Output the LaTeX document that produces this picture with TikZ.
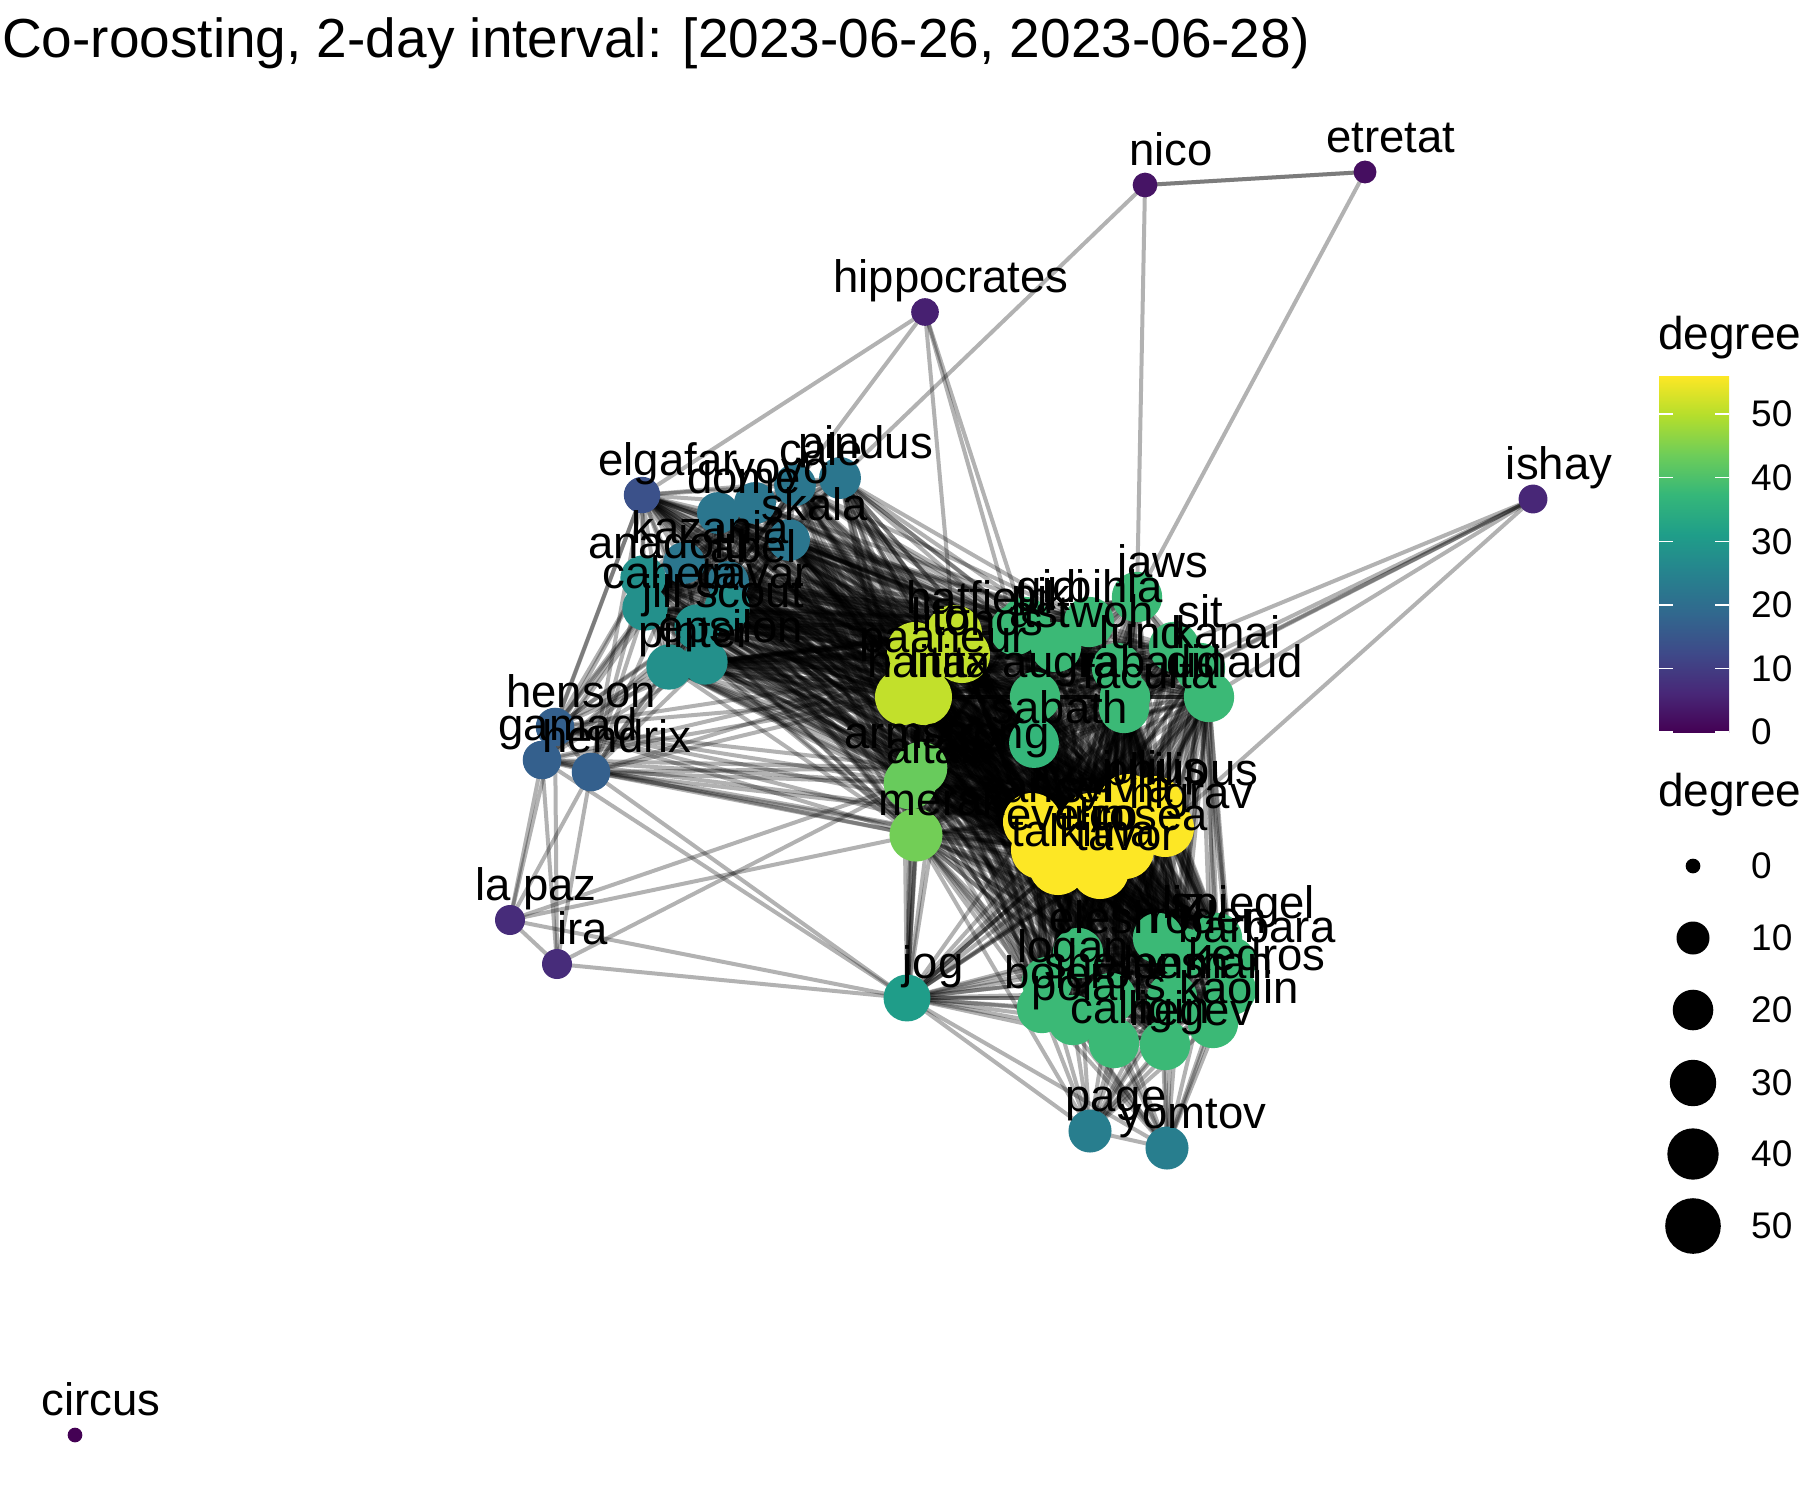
\documentclass[tikz,border=0pt]{standalone}
\usepackage{fontspec}
\setmainfont{Liberation Sans}
\definecolor{vir0}{HTML}{440154}
\definecolor{vir1}{HTML}{482878}
\definecolor{vir2}{HTML}{3E4A89}
\definecolor{vir3}{HTML}{31688E}
\definecolor{vir4}{HTML}{26828E}
\definecolor{vir5}{HTML}{1F9E89}
\definecolor{vir6}{HTML}{35B779}
\definecolor{vir7}{HTML}{6DCD59}
\definecolor{vir8}{HTML}{B4DE2C}
\definecolor{vir9}{HTML}{FDE725}
\pgfdeclareverticalshading{viridisbar}{100bp}{color(0bp)=(vir0); color(25bp)=(vir0); color(30.556bp)=(vir1); color(36.111bp)=(vir2); color(41.667bp)=(vir3); color(47.222bp)=(vir4); color(52.778bp)=(vir5); color(58.333bp)=(vir6); color(63.889bp)=(vir7); color(69.444bp)=(vir8); color(75bp)=(vir9); color(100bp)=(vir9)}
\newcommand\setdc[1]{%
 \pgfmathsetmacro\vt{min(#1*9/56,8.999)}%
 \pgfmathtruncatemacro\vi{\vt}%
 \pgfmathtruncatemacro\vj{\vi+1}%
 \pgfmathsetmacro\vf{(\vt-\vi)*100}%
 \colorlet{dc}{vir\vj!\vf!vir\vi}}
\newcommand\cliq[1]{\edef\cliqA{#1}\foreach \ea [count=\ci] in \cliqA {\foreach \eb [count=\cj] in \cliqA {\ifnum\ci<\cj \draw[edge] (\ea) -- (\eb);\fi}}}
\newcommand\bip[2]{\edef\bipA{#1}\edef\bipB{#2}\foreach \ea in \bipA {\foreach \eb in \bipB {\draw[edge] (\ea) -- (\eb);}}}
\def\nodelist{circus/75/1435/0/circus, nico/1145/185/3/nico, etretat/1365/172/2/etretat, hippo/925/312/5/hippocrates, ishay/1533/499/6/ishay,
elgafar/642/495/14/elgafar, dome/718/513/22/dome, yoyo/755/503/22/yoyo, cale/795/485/22/cale, pindus/840/478/22/pindus, skala/789/540/22/skala, kazania/684/563/22/kazania, abel/728/582/22/abel, anadolu/643/578/28/anadolu, caheta/645/608/28/caheta, gavar/727/608/28/gavar, jill/697/627/28/jill scout, epsilon/705/662/28/epsilon, pinter/669/667/28/pinter,
henson/555/727/17/henson, gamad/542/760/17/gamad, hendrix/591/772/17/hendrix, lapaz/510/920/7/la paz, ira/557/964/7/ira,
jog/907/998/31/jog, page/1090/1131/24/page, yomtov/1167/1148/24/yomtov,
armstrong/921/768/43/armstrong, altair/910/783/43/altair, merak/916/835/44/merak,
hatfield/954/633/51/hatfield, lito/915/650/51/lito, tonos/962/655/51/tonos, paaneur/917/672/51/paaneur, hanita/903/697/51/hanita, litax/924/697/51/litax,
gici/1025/622/38/gici, bihla/1089/622/38/bihla, pik/1015/630/38/pik, astwoh/1056/647/38/astwoh, sit/1174/647/38/sit, jaws/1137/597/38/jaws, lund/1117/668/38/lund, kanai/1200/668/38/kanai, augra/1035/697/38/augra, rabaud/1125/697/38/rabaud, dinaud/1209/697/38/dinaud, faculta/1124/708/38/faculta, sabath/1034/743/37/sabath,
ancel/1032/822/56/ancel, sylvia/1090/822/56/sylvia, julius/1128/803/56/julius, philipus/1155/805/56/philipus, nigrav/1165/828/56/nigrav, evelin/1040/850/56/evelin, irco/1075/850/56/irco, rosea/1125/850/56/rosea, talkitna/1058/866/56/talkitna, tavor/1100/870/56/tavor,
liz/1158/938/38/liz, spiegel/1217/938/38/spiegel, elesh/1078/953/38/elesh, roden/1183/953/38/roden, barbara/1231/962/38/barbara, logan/1047/982/38/logan, kedros/1231/990/38/kedros, shemesh/1111/998/38/shemesh, lenman/1172/998/38/lenman, bolero/1042/1008/38/bolero, polaris/1073/1020/38/polaris, kaolin/1213/1023/38/kaolin, calligin/1114/1043/38/calligin, negev/1165/1045/38/negev}
\def\lsLTE{elgafar,dome,yoyo,cale,pindus,skala,kazania,abel,anadolu,caheta,gavar,jill,epsilon,pinter}
\def\lsL{henson,gamad,hendrix}
\def\lsYG{hatfield,lito,tonos,paaneur,hanita,litax}
\def\lsTG{gici,bihla,pik,astwoh,sit,jaws,lund,kanai,augra,rabaud,dinaud,faculta,sabath}
\def\lsTGa{gici,pik,astwoh,augra,sabath,lund,bihla}
\def\lsTGb{sabath,faculta,rabaud,dinaud,augra,lund,kanai}
\def\lsAM{armstrong,altair,merak}
\def\lsY{ancel,sylvia,julius,philipus,nigrav,evelin,irco,rosea,talkitna,tavor}
\def\lsYa{ancel,sylvia,evelin,irco,talkitna,julius}
\def\lsBG{liz,spiegel,elesh,roden,barbara,logan,kedros,shemesh,lenman,bolero,polaris,kaolin,calligin,negev}
\begin{document}
\begin{tikzpicture}[x=1pt,y=-1pt,
  edge/.style={draw=black, opacity=0.3, line width=4pt},
  dot/.style={circle, inner sep=0pt, outer sep=0pt, draw=none},
  lab/.style={anchor=base, inner sep=0pt, font=\fontsize{45.5}{50}\selectfont, text=black},
  ticklab/.style={anchor=west, inner sep=0pt, font=\fontsize{37}{40}\selectfont, text=black},
  legtitle/.style={anchor=base west, inner sep=0pt, font=\fontsize{46}{50}\selectfont, text=black}]
\fill[white] (0,0) rectangle (1800,1500);
\useasboundingbox (0,0) rectangle (1800,1500);
% positions
\foreach \nm/\x/\y/\dg/\lb in \nodelist { \coordinate (\nm) at (\x,\y); }
% edges
\cliq{\lsY}
\bip{\lsYa}{\lsLTE}
\bip{\lsY}{\lsYG}
\bip{\lsY}{\lsTG}
\bip{\lsY}{\lsAM}
\bip{\lsY}{\lsBG}
\bip{\lsY}{jog}
\cliq{\lsYG}
\bip{\lsYG}{\lsLTE}
\bip{\lsYG}{\lsTG}
\bip{\lsYG}{\lsAM}
\bip{\lsYG}{\lsBG}
\bip{\lsYG}{jog}
\cliq{\lsTG}
\bip{\lsTGa}{\lsLTE}
\bip{\lsTG}{\lsAM}
\bip{\lsTGb}{\lsBG}
\cliq{\lsLTE}
\bip{\lsLTE}{\lsAM}
\cliq{\lsAM}
\bip{\lsAM}{\lsBG}
\bip{\lsAM}{jog}
\cliq{\lsBG}
\bip{\lsBG}{jog,page,yomtov}
\cliq{\lsL}
\bip{\lsL}{elgafar,anadolu,caheta,kazania,jill,epsilon,pinter,gavar}
\bip{\lsL}{lapaz,ira}
\bip{\lsL}{armstrong,altair,merak,hanita,paaneur,ancel,evelin}
\bip{hendrix,gamad}{jog}
\bip{lapaz}{ira,altair,merak,jog}
\bip{ira}{altair,jog}
\bip{nico}{etretat,etretat,pindus,jaws}
\bip{etretat}{jaws}
\bip{hippo}{elgafar,cale,gici,pik,hatfield}
\bip{ishay}{sit,kanai,dinaud,faculta,rabaud,nigrav}
\bip{jog}{page,yomtov}
\bip{page}{yomtov}
\bip{merak}{page,yomtov}
% node circles
\foreach \nm/\x/\y/\dg/\lb in \nodelist {
  \pgfmathsetmacro\dd{14.7+43.3*sqrt(\dg/56)}
  \setdc{\dg}
  \node[dot, fill=dc, minimum size=\dd pt] (\nm-c) at (\nm) {};
}
% labels
\foreach \nm/\x/\y/\dg/\lb in \nodelist {
  \node[lab] (\nm-l) at ([xshift=26pt,yshift=20pt]\nm) {\lb};
}
% title
\node[anchor=base west, inner sep=0pt, font=\fontsize{55}{60}\selectfont] (title) at (2,57) {Co-roosting, 2-day interval: [2023-06-26, 2023-06-28)};
% colour legend
\node[legtitle] (cbtitle) at (1658,349) {degree};
\shade[shading=viridisbar] (1659,376) rectangle (1729,732);
\foreach \v in {0,10,20,30,40,50} {
  \pgfmathsetmacro\ty{732-6.357*\v}
  \draw[white, line width=1.5pt] (1659,\ty) -- (1673,\ty);
  \draw[white, line width=1.5pt] (1729,\ty) -- (1715,\ty);
  \node[ticklab] (cb\v) at (1751,\ty) {\v};
}
% size legend
\node[legtitle] (sztitle) at (1658,806) {degree};
\foreach \v/\yy in {0/866,10/938,20/1010,30/1083,40/1154,50/1226} {
  \pgfmathsetmacro\dd{14.7+43.3*sqrt(\v/56)}
  \node[dot, fill=black, minimum size=\dd pt] (sz\v) at (1693,\yy) {};
  \node[ticklab] (szl\v) at (1751,\yy) {\v};
}
\end{tikzpicture}
\end{document}
